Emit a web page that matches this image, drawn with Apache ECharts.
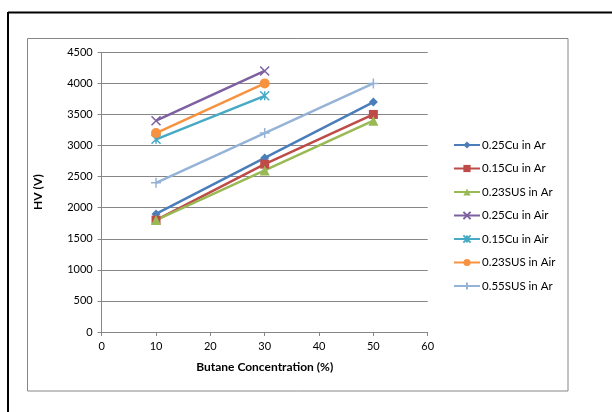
<!DOCTYPE html>
<html><head><meta charset="utf-8">
<script src="https://cdn.jsdelivr.net/npm/echarts@6/dist/echarts.min.js"></script>
<style>html,body{margin:0;padding:0;background:#fff}#c{width:612px;height:412px}</style>
</head><body><div id="c"></div>
<script>
var xValues = [10, 30, 50];
var seriesNames = ['0.25Cu in Ar','0.15Cu in Ar','0.23SUS in Ar','0.25Cu in Air','0.15Cu in Air','0.23SUS in Air','0.55SUS in Ar'];
var cuAr025 = [1900, 2800, 3700];
var cuAr015 = [1800, 2700, 3500];
var susAr023 = [1800, 2600, 3400];
var cuAir025 = [3400, 4200];
var cuAir015 = [3100, 3800];
var susAir023 = [3200, 4000];
var susAr055 = [2400, 3200, 4000];
var yTicks = [0,500,1000,1500,2000,2500,3000,3500,4000,4500];
var xTicks = [0,10,20,30,40,50,60];

var colors = ['#4A7EBB','#BE4B48','#98B954','#7D60A0','#46AAC5','#F69240','#95B3D7'];
var symbols = ['diamond','rect','triangle',
  'path://M0,0L10,10M10,0L0,10',
  'path://M0,0L10,10M10,0L0,10M5,0L5,10',
  'circle',
  'path://M5,0L5,10M0,5L10,5'];
var sizes = [9,9,10,9,9,10,10];
var allData = [cuAr025, cuAr015, susAr023, cuAir025, cuAir015, susAir023, susAr055];
var font = 'Lato, "Liberation Sans", sans-serif';

var series = allData.map(function(vals, i){
  return {
    name: seriesNames[i], type: 'line',
    data: vals.map(function(v, j){ return [xValues[j], v]; }),
    symbol: symbols[i], symbolSize: sizes[i], showSymbol: true,
    lineStyle: {color: colors[i], width: 2.5},
    itemStyle: {color: colors[i], borderColor: colors[i], borderWidth: (i===3||i===4||i===6)?1.5:0},
    emphasis: {disabled: true}, animation: false
  };
});

var chart = echarts.init(document.getElementById('c'));
chart.setOption({
  animation: false,
  grid: {left: 101.7, right: 184.3, top: 52.3, bottom: 80, containLabel: false},
  xAxis: {
    type: 'value', min: 0, max: 60, interval: 10,
    name: 'Butane Concentration (%)', nameLocation: 'middle', nameGap: 29,
    nameTextStyle: {fontFamily: font, fontSize: 12, fontWeight: 'bold', color: '#000'},
    axisLine: {show: true, lineStyle: {color: '#868686', width: 1}},
    axisTick: {show: true, inside: false, length: 4, lineStyle: {color: '#868686'}},
    axisLabel: {fontFamily: font, fontSize: 11, color: '#000', margin: 9},
    splitLine: {show: false}
  },
  yAxis: {
    type: 'value', min: 0, max: 4500, interval: 500,
    name: 'HV (V)', nameLocation: 'middle', nameGap: 58, nameRotate: 90,
    nameTextStyle: {fontFamily: font, fontSize: 12, fontWeight: 'bold', color: '#000'},
    axisLine: {show: true, lineStyle: {color: '#868686', width: 1}},
    axisTick: {show: true, inside: false, length: 4, lineStyle: {color: '#868686'}},
    axisLabel: {fontFamily: font, fontSize: 11, color: '#000', margin: 9, formatter: function(v){ return String(v); }},
    splitLine: {show: true, lineStyle: {color: '#868686', width: 1}}
  },
  legend: {
    orient: 'vertical', left: 453, top: 139, padding: 0,
    itemWidth: 26, itemHeight: 9, itemGap: 11.5,
    textStyle: {fontFamily: font, fontSize: 11.5, color: '#000', padding: [0,0,0,-3]},
    data: seriesNames
  },
  graphic: [
    {type: 'line', shape: {x1: 8, y1: 12.5, x2: 612, y2: 12.5}, style: {stroke: '#000', lineWidth: 2}, silent: true},
    {type: 'line', shape: {x1: 8, y1: 12, x2: 8, y2: 412}, style: {stroke: '#000', lineWidth: 2}, silent: true},
    {type: 'rect', shape: {x: 27.5, y: 38.5, width: 540.5, height: 352.5}, style: {fill: 'none', stroke: '#868686', lineWidth: 1}, silent: true, z: -1}
  ],
  series: series
});
</script></body></html>
